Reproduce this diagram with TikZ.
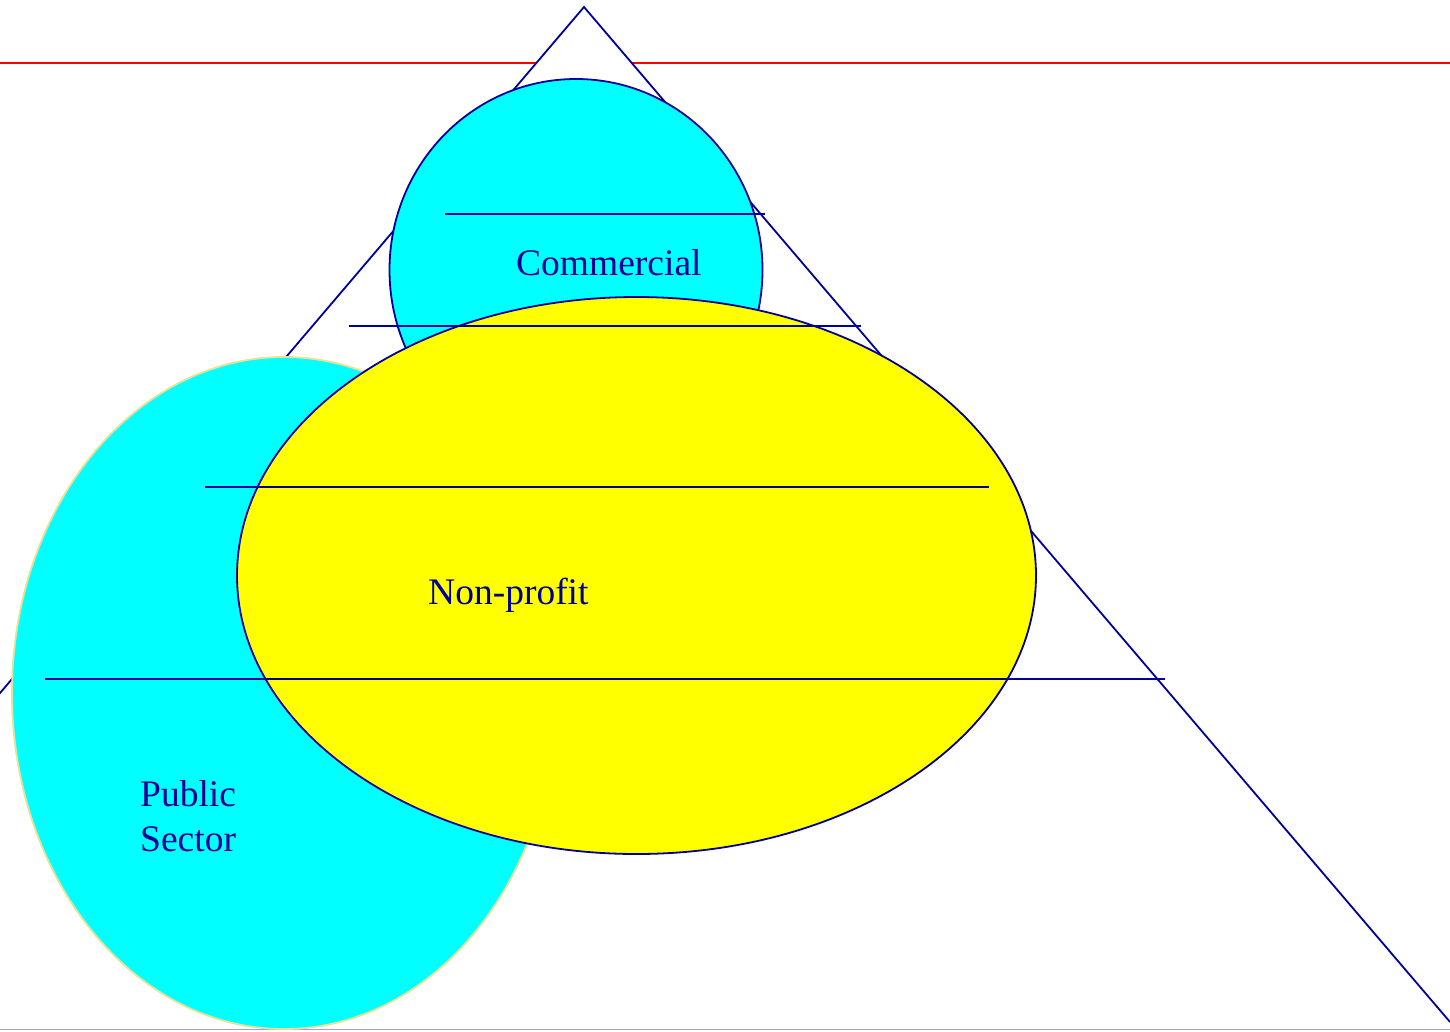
\documentclass[tikz,border=0pt]{standalone}
\usepackage{fontspec}
\setmainfont{Liberation Serif}
\definecolor{navy}{RGB}{0,0,153}
\definecolor{cyanfill}{RGB}{0,255,255}
\definecolor{yelfill}{RGB}{255,255,0}
\definecolor{paleborder}{RGB}{235,225,150}
\definecolor{lav}{RGB}{160,160,225}
\tikzset{
  navyline/.style={draw=navy, line width=2.4pt},
  lbl/.style={text=navy, font=\fontsize{37.5}{44}\selectfont, inner sep=0pt, anchor=base west}
}
\begin{document}
\begin{tikzpicture}[x=1pt,y=-1pt]
\useasboundingbox (0,0) rectangle (1450,1031);
\fill[white] (0,0) rectangle (1450,1031);
% red line
\coordinate (rl) at (0,63);
\coordinate (rr) at (1450,63);
\draw[red, line width=2.2pt] (rl) -- (rr);
% triangle
\coordinate (apex) at (584,7);
\coordinate (bl) at (-280,1022);
\coordinate (br) at (1450,1022);
\filldraw[fill=white, draw=navy, line width=1.8pt] (bl) -- (apex) -- (br);
% bottom line
\coordinate (bot1) at (0,1029.5);
\coordinate (bot2) at (1450,1029.5);
\draw[lav, line width=1.2pt] (bot1) -- (bot2);
% ellipses
\filldraw[fill=cyanfill, draw=navy, line width=1.8pt] (576,270) ellipse [x radius=186.5, y radius=191];
\filldraw[fill=cyanfill, draw=paleborder, line width=1.8pt] (284,693) ellipse [x radius=272, y radius=336];
\filldraw[fill=yelfill, draw=navy, line width=1.8pt] (636.5,575.5) ellipse [x radius=399.5, y radius=278.5];
% horizontal lines
\coordinate (h1a) at (445,214); \coordinate (h1b) at (765,214);
\coordinate (h2a) at (349,326); \coordinate (h2b) at (861,326);
\coordinate (h3a) at (205,487); \coordinate (h3b) at (989,487);
\coordinate (h4a) at (45,679);  \coordinate (h4b) at (1165,679);
\draw[navyline] (h1a) -- (h1b);
\draw[navyline] (h2a) -- (h2b);
\draw[navyline] (h3a) -- (h3b);
\draw[navyline] (h4a) -- (h4b);
% labels
\node[lbl] (tcomm) at (516,275) {Commercial};
\node[lbl] (tnon) at (428,604) {Non-profit};
\node[lbl] (tpub1) at (140,806) {Public};
\node[lbl] (tpub2) at (140,851) {Sector};
\end{tikzpicture}
\end{document}
